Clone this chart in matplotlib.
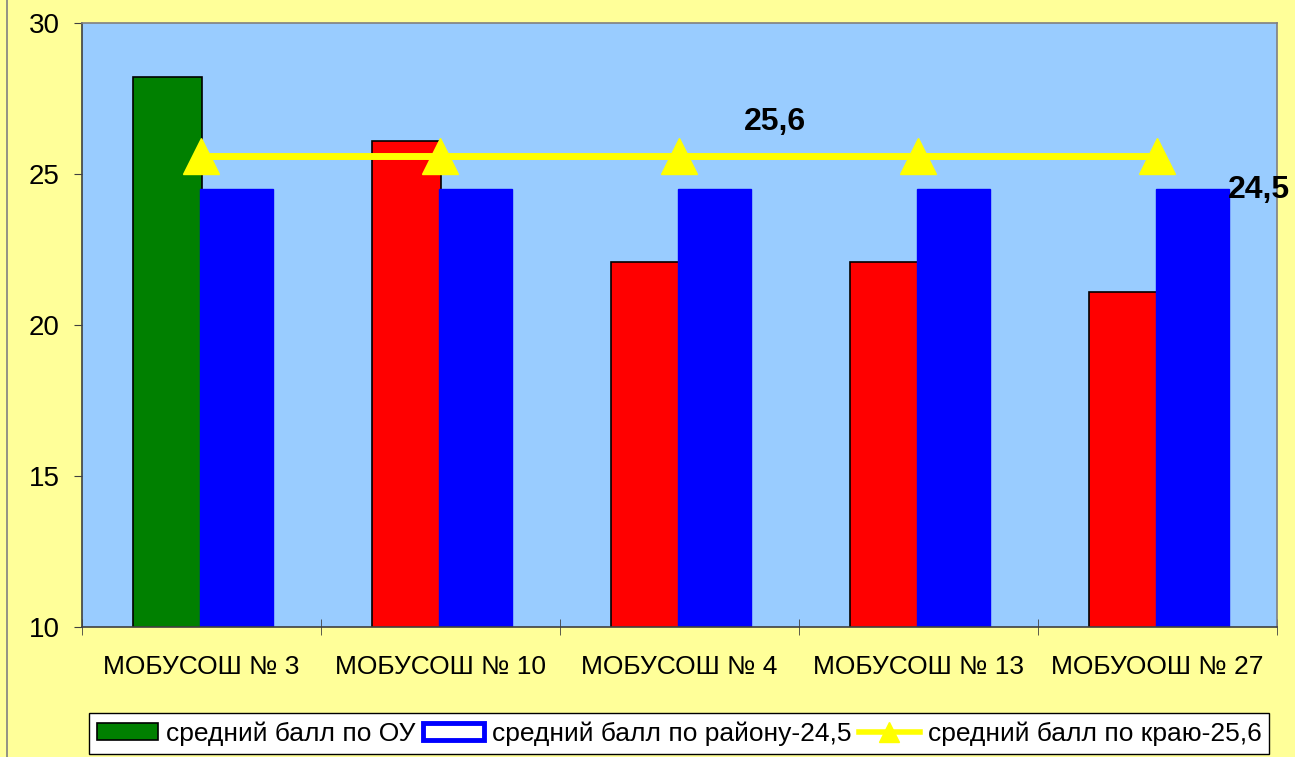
import matplotlib.pyplot as plt
import numpy as np
from matplotlib.patches import Patch
from matplotlib.lines import Line2D

plt.rcParams['font.family'] = ['Liberation Sans', 'DejaVu Sans']

schools = ['МОБУСОШ № 3', 'МОБУСОШ № 10', 'МОБУСОШ № 4', 'МОБУСОШ № 13', 'МОБУООШ № 27']
school_avg = [28.2, 26.1, 22.1, 22.1, 21.1]
district_avg = [24.5, 24.5, 24.5, 24.5, 24.5]
region_avg = [25.6, 25.6, 25.6, 25.6, 25.6]
school_colors = ['#008000', '#FF0000', '#FF0000', '#FF0000', '#FF0000']

fig = plt.figure(figsize=(12.95, 7.57), dpi=100)
fig.patch.set_facecolor('#FFFF99')
ax = fig.add_axes([0.0633, 0.1717, 0.9227, 0.7979])
ax.set_facecolor('#99CCFF')

x = np.arange(len(schools))
ax.bar(x - 0.142, school_avg, width=0.289, color=school_colors, edgecolor='black',
       linewidth=1.2, zorder=2)
ax.bar(x + 0.146, district_avg, width=0.305, color='#0000FF',
       edgecolor='#0000FF', linewidth=1, zorder=2)
ax.plot(x, region_avg, color='#FFFF00', linewidth=5, marker='^', markersize=26,
        zorder=3)

ax.text(2.4, 26.72, '25,6', fontsize=23, fontweight='bold', ha='center', va='center')
ax.text(4.295, 24.47, '24,5', fontsize=23, fontweight='bold', ha='left', va='center')

ax.set_ylim(10, 30)
ax.set_xlim(-0.5, 4.5)
ax.set_yticks([10, 15, 20, 25, 30])
ax.tick_params(axis='y', labelsize=20, length=6, color='#404040', pad=10)
ax.set_xticks(x)
ax.set_xticklabels(schools, fontsize=19)
ax.tick_params(axis='x', which='major', length=0, pad=20)
ax.set_xticks(np.arange(-0.5, 5, 1), minor=True)
ax.tick_params(axis='x', which='minor', length=12, direction='inout', color='#404040')

for s in ['left', 'bottom']:
    ax.spines[s].set_color('#404040')
    ax.spines[s].set_linewidth(1.2)
for s in ['top', 'right']:
    ax.spines[s].set_color('#808080')
    ax.spines[s].set_linewidth(1.2)

handles = [
    Patch(facecolor='#008000', edgecolor='black', linewidth=1.2),
    Patch(facecolor='white', edgecolor='#0000FF', linewidth=3.5),
    Line2D([0], [0], color='#FFFF00', linewidth=4, marker='^', markersize=14),
]
labels = ['средний балл по ОУ', 'средний балл по району-24,5', 'средний балл по краю-25,6']
leg = fig.legend(handles, labels, ncol=3, loc='center',
                 bbox_to_anchor=(0.5245, 0.031), fontsize=19, frameon=True,
                 fancybox=False, edgecolor='black', facecolor='white',
                 handlelength=2.3, handletextpad=0.3, columnspacing=0.3,
                 borderpad=0.3, handleheight=0.6)
leg.get_frame().set_linewidth(1)
leg.get_frame().set_alpha(1)

fig.add_artist(Line2D([0.0055, 0.0055], [0, 1], color='#808080', linewidth=1.2))

fig.savefig('out.png', dpi=100, facecolor=fig.get_facecolor())
